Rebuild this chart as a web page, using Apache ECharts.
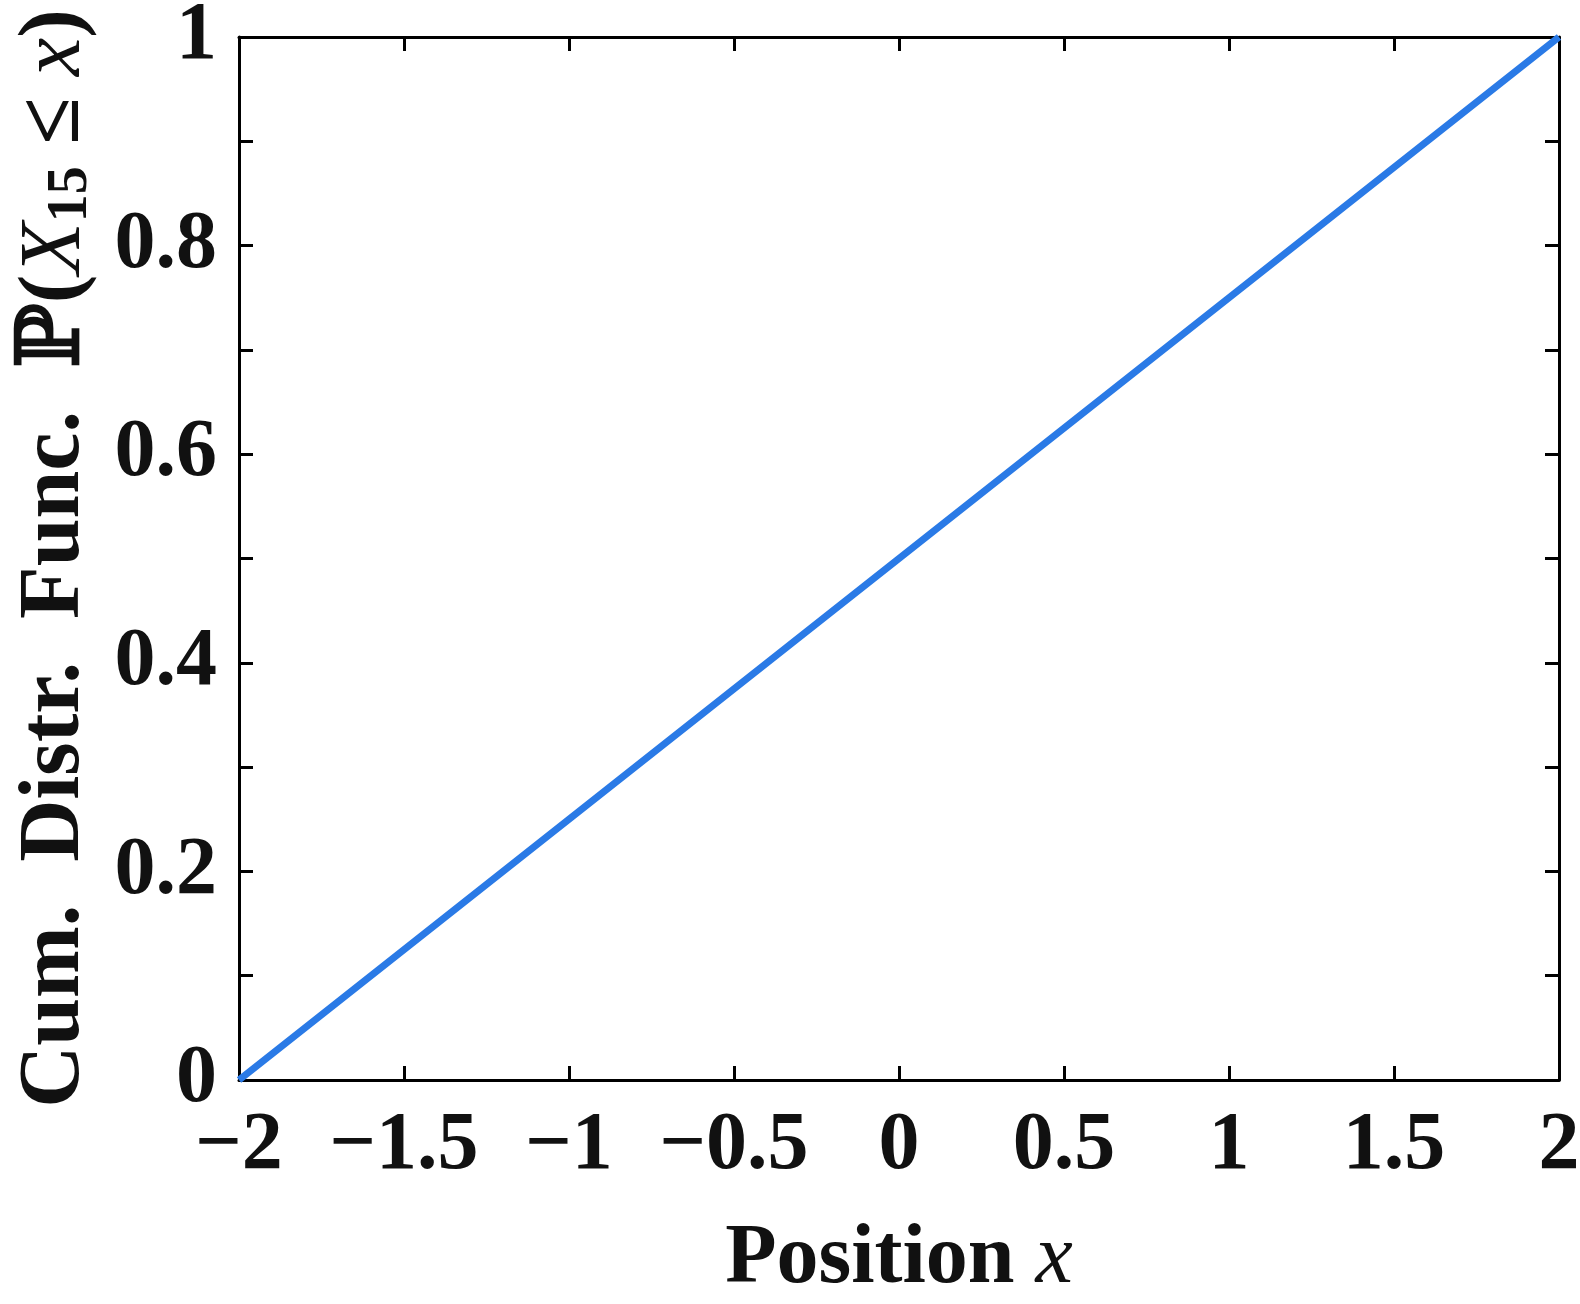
<!DOCTYPE html>
<html><head><meta charset="utf-8">
<script src="https://cdn.jsdelivr.net/npm/echarts@6/dist/echarts.min.js"></script>
<style>html,body{margin:0;padding:0;background:#fff}#c{width:1580px;height:1304px}</style>
</head><body><div id="c"></div>
<script>
const xValues = [-2, -1, 0, 1, 2];
const cdfValues = [0, 0.25, 0.5, 0.75, 1];
const xTicks = [-2, -1.5, -1, -0.5, 0, 0.5, 1, 1.5, 2];
const yTicks = [0, 0.2, 0.4, 0.6, 0.8, 1];

const FONT = '"Liberation Serif", "DejaVu Serif", serif';
const fmt = v => {
  const r = Math.round(v * 100) / 100;
  return (r < 0 ? '\u2212' : '') + String(Math.abs(r));
};
const chart = echarts.init(document.getElementById('c'));
const common = () => ({
  type: 'value',
  axisLine: { show: true, onZero: false, lineStyle: { color: '#000', width: 3 } },
  axisTick: { show: true, inside: true, length: 14, lineStyle: { color: '#000', width: 3 } },
  splitLine: { show: false }
});
chart.setOption({
  backgroundColor: '#fff',
  animation: false,
  grid: { left: 239, right: 21, top: 37, bottom: 224, containLabel: false, outerBoundsMode: 'none' },
  xAxis: [
    Object.assign(common(), {
      min: -2, max: 2, interval: 0.5, position: 'bottom',
      axisLabel: { margin: 26, fontFamily: FONT, fontWeight: 'bold', fontSize: 82, color: '#111',
        formatter: v => xTicks.some(t => Math.abs(t - v) < 1e-9) ? fmt(v) : '' },
      name: '{n|Position }{i|x}', nameLocation: 'middle', nameGap: 138,
      nameTextStyle: { rich: {
        n: { fontFamily: FONT, fontWeight: 'bold', fontSize: 84, color: '#111' },
        i: { fontFamily: FONT, fontStyle: 'italic', fontSize: 84, color: '#111' } } }
    }),
    Object.assign(common(), { min: -2, max: 2, interval: 0.5, position: 'top', axisLabel: { show: false } })
  ],
  yAxis: [
    Object.assign(common(), {
      min: 0, max: 1, interval: 0.1, position: 'left',
      axisLabel: { margin: 22, fontFamily: FONT, fontWeight: 'bold', fontSize: 82, color: '#111',
        formatter: v => yTicks.some(t => Math.abs(t - v) < 1e-9) ? fmt(v) : '' },
      name: '{n|Cum.  Distr.  Func.  }{p|\u2119}{n|(}{i|X}{s|15}{n| \u2264 }{i|x}{n|)}',
      nameLocation: 'middle', nameGap: 139, nameRotate: 90,
      nameTextStyle: { rich: {
        n: { fontFamily: FONT, fontWeight: 'bold', fontSize: 86, color: '#111' },
        p: { fontFamily: '"DejaVu Serif", serif', fontWeight: 'bold', fontSize: 86, color: '#111' },
        i: { fontFamily: FONT, fontStyle: 'italic', fontSize: 86, color: '#111' },
        s: { fontFamily: FONT, fontWeight: 'bold', fontSize: 56, color: '#111', verticalAlign: 'bottom', padding: [32, 0, 0, 0] } } }
    }),
    Object.assign(common(), { min: 0, max: 1, interval: 0.1, position: 'right', axisLabel: { show: false } })
  ],
  series: [{
    type: 'line',
    data: xValues.map((x, i) => [x, cdfValues[i]]),
    showSymbol: false,
    lineStyle: { color: '#2a7ae6', width: 7 },
    clip: false
  }]
});
</script></body></html>
